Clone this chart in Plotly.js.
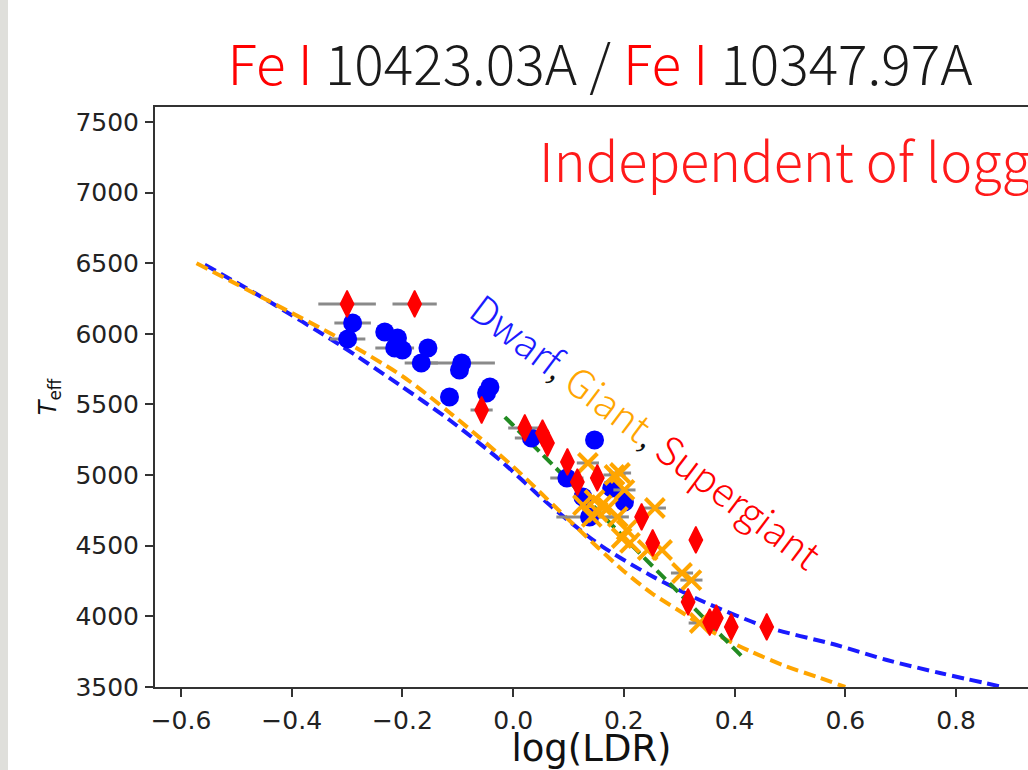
<!DOCTYPE html>
<html>
<head>
<meta charset="utf-8">
<script src="https://cdn.plot.ly/plotly-3.0.1.min.js"></script>
<style>
  html, body { margin: 0; padding: 0; background: #ffffff; overflow: hidden; }
  #chart { width: 1028px; height: 770px; }
</style>
</head>
<body>
<div id="chart"></div>
<script>
// ---- Data ----
// Dwarf stars (blue circles)
const dwarfLogLDR = [-0.290, -0.299, -0.232, -0.209, -0.214, -0.200, -0.154, -0.166, -0.093, -0.097, -0.115, -0.042, -0.048, 0.033, 0.147, 0.097, 0.126, 0.138, 0.178, 0.201];
const dwarfTeff   = [6077, 5964, 6013, 5971, 5900, 5886, 5900, 5794, 5794, 5744, 5553, 5624, 5581, 5263, 5249, 4980, 4845, 4704, 4909, 4810];
const dwarfErr    = [0.033, 0.032, 0, 0, 0.035, 0, 0, 0.03, 0.06, 0, 0, 0, 0, 0.03, 0, 0.03, 0, 0.06, 0, 0];

// Giant stars (orange crosses)
const giantLogLDR = [0.135, 0.183, 0.201, 0.147, 0.160, 0.153, 0.142, 0.171, 0.126, 0.189, 0.205, 0.196, 0.211, 0.256, 0.269, 0.243, 0.305, 0.322, 0.337, 0.193];
const giantTeff   = [5086, 5001, 4895, 4824, 4788, 4739, 4704, 4767, 4788, 4704, 4611, 4555, 4520, 4767, 4470, 4470, 4307, 4257, 3953, 5015];
const giantErr    = [0.02, 0.02, 0.02, 0, 0, 0, 0, 0, 0, 0.02, 0, 0, 0, 0.02, 0, 0, 0.02, 0.02, 0.02, 0.02];

// Supergiant stars (red diamonds)
const sgLogLDR = [-0.300, -0.178, -0.057, 0.021, 0.053, 0.062, 0.098, 0.116, 0.152, 0.232, 0.252, 0.330, 0.316, 0.355, 0.367, 0.394, 0.458];
const sgTeff   = [6212, 6212, 5461, 5334, 5298, 5227, 5093, 4951, 4980, 4704, 4520, 4541, 4102, 3960, 3988, 3925, 3925];
const sgErr    = [0.052, 0.04, 0.02, 0.03, 0, 0, 0, 0, 0, 0, 0, 0, 0, 0, 0, 0, 0];

// Calibration curves (dashed)
const dwarfFitX = [-0.557, -0.45, -0.313, -0.205, -0.115, -0.024, 0.066, 0.157, 0.247, 0.337, 0.458, 0.584, 0.675, 0.771, 0.885];
const dwarfFitY = [6490, 6250, 5921, 5638, 5390, 5107, 4788, 4505, 4293, 4116, 3925, 3797, 3691, 3599, 3500];
const giantFitX = [-0.572, -0.45, -0.31, -0.2, -0.114, 0.0, 0.08, 0.152, 0.2, 0.25, 0.3, 0.373, 0.43, 0.494, 0.55, 0.6];
const giantFitY = [6500, 6250, 5960, 5700, 5440, 5060, 4760, 4491, 4320, 4165, 4040, 3860, 3750, 3645, 3570, 3500];
const sgFitX = [-0.015, 0.1, 0.2, 0.307, 0.416];
const sgFitY = [5411, 4960, 4560, 4137, 3705];

// Tick labels
const xTickVals = [-0.6, -0.4, -0.2, 0.0, 0.2, 0.4, 0.6, 0.8];
const xTickText = ["\u22120.6", "\u22120.4", "\u22120.2", "0.0", "0.2", "0.4", "0.6", "0.8"];
const yTickVals = [3500, 4000, 4500, 5000, 5500, 6000, 6500, 7000, 7500];

const titleText = '<span style="color:#ff0000">Fe I</span> 10423.03A / <span style="color:#ff0000">Fe I</span> 10347.97A';
const noteText = 'Independent of logg';
const diagText = '<span style="color:#1a1aff">Dwarf</span>, <span style="color:#ffa500">Giant</span>, <span style="color:#ff0000">Supergiant</span>';

const errStyle = (arr) => ({ type: 'data', symmetric: true, array: arr, color: '#8a8a8a', thickness: 3, width: 0 });
const dashLine = (c) => ({ color: c, width: 4, dash: '12px,6px', shape: 'spline', smoothing: 0.8 });

const traces = [
  { x: dwarfFitX, y: dwarfFitY, mode: 'lines', line: dashLine('#1a1aff'), hoverinfo: 'skip' },
  { x: giantFitX, y: giantFitY, mode: 'lines', line: dashLine('#ffa500'), hoverinfo: 'skip' },
  { x: sgFitX, y: sgFitY, mode: 'lines', line: dashLine('#228b22'), hoverinfo: 'skip' },
  { x: dwarfLogLDR, y: dwarfTeff, mode: 'markers', error_x: errStyle(dwarfErr),
    marker: { symbol: 'circle', size: 19, color: '#0000ff', line: { width: 0 } } },
  { x: giantLogLDR, y: giantTeff, mode: 'markers', error_x: errStyle(giantErr),
    marker: { symbol: 'x-thin-open', size: 19, color: '#ffa500', line: { color: '#ffa500', width: 4 } } },
  { x: sgLogLDR, y: sgTeff, mode: 'markers', error_x: errStyle(sgErr),
    marker: { symbol: 'diamond-tall', size: 19, color: '#ff0000', line: { color: '#ff0000', width: 1.5 } } }
];

const layout = {
  width: 1028, height: 770,
  margin: { l: 155, r: 0, t: 107, b: 83, pad: 0 },
  paper_bgcolor: '#ffffff', plot_bgcolor: '#ffffff',
  showlegend: false,
  title: {
    text: titleText,
    font: { family: 'Noto Sans CJK JP', size: 55, weight: 300, color: '#1a1a1a' },
    x: 600 / 1028, xref: 'container', xanchor: 'center',
    y: 1 - 66 / 770, yref: 'container', yanchor: 'middle'
  },
  xaxis: {
    range: [-0.647, 0.930],
    tickmode: 'array', tickvals: xTickVals, ticktext: xTickText,
    ticks: 'outside', ticklen: 8, tickwidth: 2, tickcolor: '#333333',
    showline: true, linecolor: '#333333', linewidth: 2, mirror: true,
    showgrid: false, zeroline: false,
    tickfont: { family: 'DejaVu Sans', size: 25, color: '#222222' },
    ticklabelstandoff: 2,
    title: { text: 'log(LDR)', font: { family: 'DejaVu Sans', size: 37, color: '#111111' }, standoff: 14 }
  },
  yaxis: {
    range: [3500, 7606],
    tickmode: 'array', tickvals: yTickVals,
    ticks: 'outside', ticklen: 8, tickwidth: 2, tickcolor: '#333333',
    showline: true, linecolor: '#333333', linewidth: 2, mirror: false,
    showgrid: false, zeroline: false,
    tickfont: { family: 'DejaVu Sans', size: 25, color: '#222222' },
    ticklabelstandoff: 1,
    title: { text: '<i>T</i><sub>eff</sub>', font: { family: 'DejaVu Sans', size: 24, color: '#111111' }, standoff: 12 }
  },
  annotations: [
    { text: noteText, xref: 'paper', yref: 'paper', x: (537 - 155) / 873, y: (687 - 158) / 580,
      xanchor: 'left', yanchor: 'middle', showarrow: false,
      font: { family: 'Noto Sans CJK JP', size: 54, weight: 300, color: '#ff1a1a' } },
    { text: diagText, xref: 'paper', yref: 'paper', x: (647 - 155) / 873, y: (687 - 430) / 580,
      xanchor: 'center', yanchor: 'middle', showarrow: false, textangle: 37,
      font: { family: 'Noto Sans CJK JP', size: 39, weight: 300, color: '#111111' } }
  ],
  shapes: [
    { type: 'rect', xref: 'paper', yref: 'paper', x0: -155 / 873, x1: -147 / 873, y0: -83 / 580, y1: 687 / 580,
      fillcolor: '#dfdfdb', line: { width: 0 }, layer: 'below' }
  ]
};

Plotly.newPlot('chart', traces, layout, { displayModeBar: false, staticPlot: true });
</script>
</body>
</html>
